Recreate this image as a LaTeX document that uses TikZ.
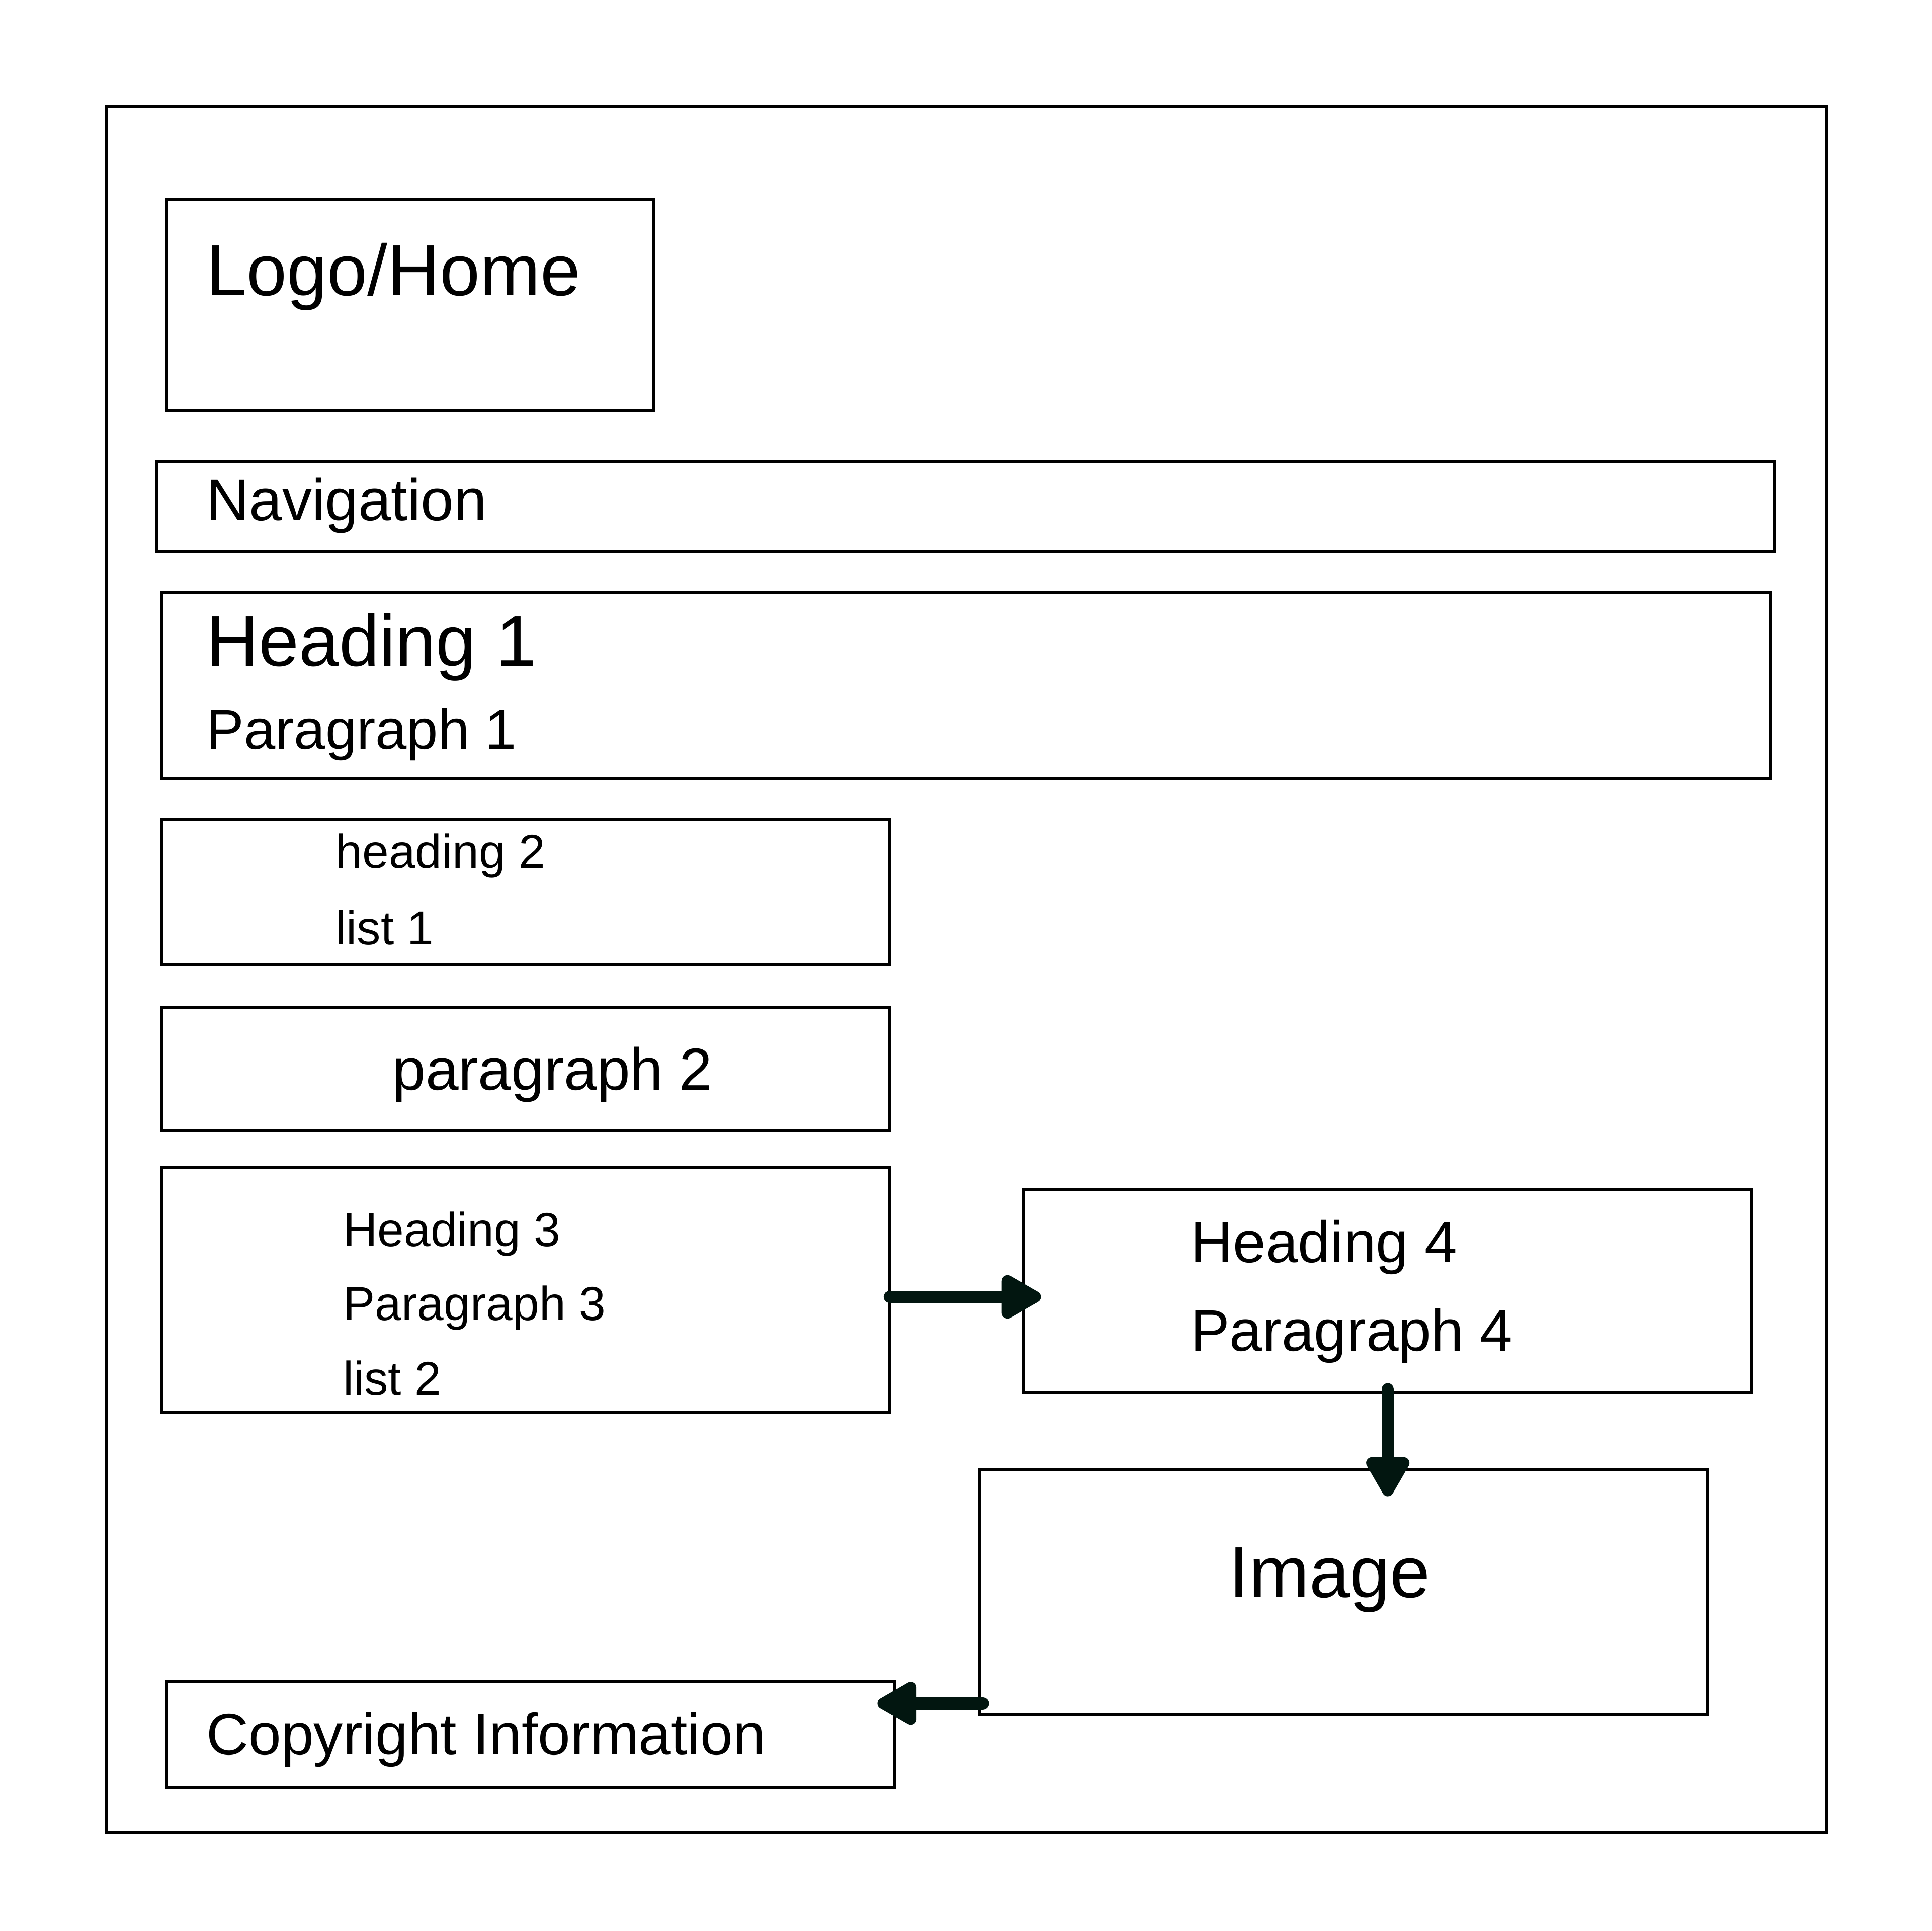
\documentclass[tikz,border=0pt]{standalone}
\usepackage{fontspec}
\setmainfont{Liberation Sans}
\usetikzlibrary{arrows.meta}

\definecolor{arrowgreen}{HTML}{021610}

\begin{document}
\begin{tikzpicture}[x=0.01cm,y=-0.01cm,
                    box/.style={draw,line width=0.7pt,inner sep=0pt,outer sep=0pt,anchor=north west},
                    lbl/.style={anchor=base west,inner sep=0pt},
                    flow/.style={draw=arrowgreen,line width=1mm,line cap=round,line join=round,
                                 -{Triangle[round,length=3.7mm,width=3.9mm]}}]
  \useasboundingbox (0,0) rectangle (1568,1568);

  \node[box,minimum width=13.96cm,minimum height=14.01cm] (page) at (86,86) {};
  \node[box,minimum width=3.95cm,minimum height=1.71cm] (logo) at (135,162) {};
  \node[box,minimum width=13.13cm,minimum height=0.73cm] (nav) at (127,375) {};
  \node[box,minimum width=13.05cm,minimum height=1.51cm] (h1) at (131,481) {};
  \node[box,minimum width=5.91cm,minimum height=1.18cm] (h2) at (131,665) {};
  \node[box,minimum width=5.91cm,minimum height=1.00cm] (p2) at (131,818) {};
  \node[box,minimum width=5.91cm,minimum height=1.99cm] (h3) at (131,948) {};
  \node[box,minimum width=5.91cm,minimum height=1.65cm] (h4) at (831,966) {};
  \node[box,minimum width=5.91cm,minimum height=1.99cm] (img) at (795,1193) {};
  \node[box,minimum width=5.91cm,minimum height=0.86cm] (copy) at (135,1365) {};

  \node[lbl,font=\fontsize{16.7}{20}\selectfont] (logot) at (167,240) {Logo/Home};
  \node[lbl,font=\fontsize{13.7}{17}\selectfont] (navt) at (167,423) {Navigation};
  \node[lbl,font=\fontsize{16.7}{20}\selectfont] (h1t) at (167,541) {Heading 1};
  \node[lbl,font=\fontsize{13}{16}\selectfont] (p1t) at (167,608) {Paragraph 1};
  \node[lbl,font=\fontsize{11}{13}\selectfont] (h2t) at (272,705) {heading 2};
  \node[lbl,font=\fontsize{11}{13}\selectfont] (l1t) at (272,767) {list 1};
  \node[lbl,font=\fontsize{13.7}{16}\selectfont] (p2t) at (318,885) {paragraph 2};
  \node[lbl,font=\fontsize{11}{13}\selectfont] (h3t) at (278,1012) {Heading 3};
  \node[lbl,font=\fontsize{11}{13}\selectfont] (p3t) at (278,1072) {Paragraph 3};
  \node[lbl,font=\fontsize{11}{13}\selectfont] (l2t) at (278,1133) {list 2};
  \node[lbl,font=\fontsize{13.5}{16}\selectfont] (h4t) at (966,1025) {Heading 4};
  \node[lbl,font=\fontsize{13.5}{16}\selectfont] (p4t) at (966,1097) {Paragraph 4};
  \node[lbl,font=\fontsize{16.7}{20}\selectfont] (imgt) at (997,1297) {Image};
  \node[lbl,font=\fontsize{13.5}{16}\selectfont] (copyt) at (167,1425) {Copyright Information};

  % arrows between the blocks
  \coordinate (a1) at ([yshift=-0.055cm]h3.east);
  \coordinate (a3) at ([xshift=0.03cm,yshift=0.09cm]img.south west);
  \draw[flow,shorten >=-0.14cm] (a1) -- (a1 -| h4.west);
  \draw[flow,shorten <=-0.03cm,shorten >=-0.22cm] (h4.south) -- (h4.south |- img.north);
  \draw[flow,shorten >=-0.14cm] (a3) -- (a3 -| copy.east);
\end{tikzpicture}
\end{document}
